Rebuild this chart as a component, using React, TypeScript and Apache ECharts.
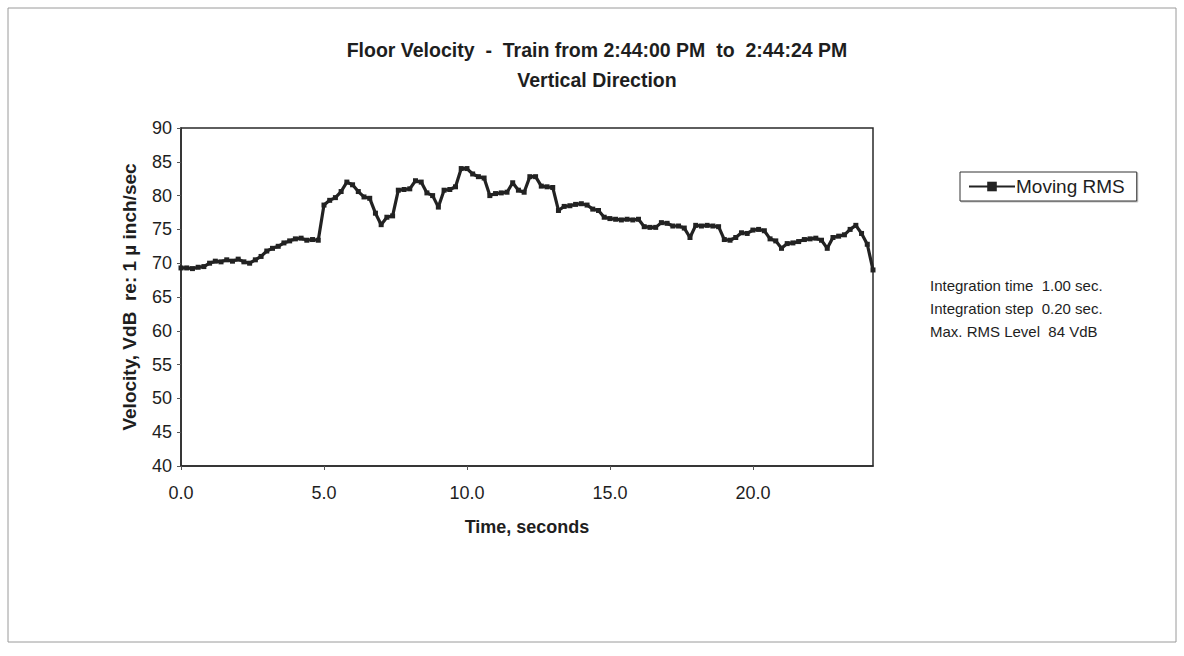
import React, { useEffect, useRef } from "react";
import * as echarts from "echarts";

const TITLE_LINE_1 = "Floor Velocity  -  Train from 2:44:00 PM  to  2:44:24 PM";
const TITLE_LINE_2 = "Vertical Direction";
const X_TITLE = "Time, seconds";
const Y_TITLE = "Velocity, VdB  re: 1 \u00b5 inch/sec";
const SERIES_NAME = "Moving RMS";
const NOTES = [
  "Integration time  1.00 sec.",
  "Integration step  0.20 sec.",
  "Max. RMS Level  84 VdB",
];

const STEP_SECONDS = 0.2;

// Moving RMS level (VdB), one value per 0.2 s step, t = 0.0 ... 24.2 s
const rmsValues = [
  69.3, 69.3, 69.2, 69.4, 69.5, 70.0, 70.3, 70.2, 70.5, 70.3,
  70.6, 70.2, 70.0, 70.5, 71.0, 71.8, 72.2, 72.5, 73.0, 73.3,
  73.6, 73.7, 73.4, 73.5, 73.4, 78.6, 79.3, 79.7, 80.6, 82.0,
  81.6, 80.6, 79.8, 79.6, 77.4, 75.7, 76.8, 77.0, 80.8, 80.9,
  81.0, 82.2, 82.0, 80.4, 80.0, 78.3, 80.8, 80.9, 81.3, 84.0,
  84.0, 83.2, 82.8, 82.6, 80.0, 80.3, 80.4, 80.5, 81.9, 80.8,
  80.5, 82.8, 82.8, 81.4, 81.3, 81.2, 77.8, 78.4, 78.5, 78.7,
  78.8, 78.6, 78.0, 77.8, 76.8, 76.6, 76.5, 76.4, 76.5, 76.4,
  76.5, 75.4, 75.3, 75.3, 76.0, 75.9, 75.5, 75.5, 75.2, 73.8,
  75.6, 75.5, 75.6, 75.5, 75.4, 73.5, 73.4, 73.8, 74.5, 74.4,
  74.9, 75.0, 74.8, 73.6, 73.3, 72.2, 72.9, 73.0, 73.2, 73.5,
  73.6, 73.7, 73.4, 72.2, 73.8, 74.0, 74.2, 75.0, 75.6, 74.4,
  72.8, 69.0,
];

const X_MIN = 0;
const X_MAX = 24.2;
const X_INTERVAL = 5;
const Y_MIN = 40;
const Y_MAX = 90;
const Y_INTERVAL = 5;

const FONT = "'Liberation Sans', Arial, Helvetica, sans-serif";
const INK = "#1e1e1e";

export default function App() {
  const ref = useRef<HTMLDivElement>(null);

  useEffect(() => {
    document.body.style.margin = "0";
    const chart = echarts.init(ref.current!, undefined, { renderer: "svg" });
    const data = rmsValues.map((v, i) => [
      Math.round(i * STEP_SECONDS * 10) / 10,
      v,
    ]);

    chart.setOption({
      animation: false,
      backgroundColor: "#ffffff",
      textStyle: { fontFamily: FONT },
      grid: {
        left: 181,
        right: 1184 - 873,
        top: 128,
        bottom: 656 - 466,
        show: true,
        borderColor: "#2a2a2a",
        borderWidth: 1.5,
        backgroundColor: "transparent",
      },
      legend: {
        left: 960,
        top: 172,
        orient: "vertical",
        data: [SERIES_NAME],
        itemWidth: 46,
        itemHeight: 12,
        padding: [5, 12, 5, 8],
        itemGap: 0,
        borderColor: "#333",
        borderWidth: 1,
        backgroundColor: "#fff",
        shadowColor: "rgba(0,0,0,0.25)",
        shadowOffsetX: 1,
        shadowOffsetY: 1,
        textStyle: { fontSize: 19, color: INK, fontFamily: FONT, padding: [0, 0, 0, -4] },
      },
      xAxis: {
        type: "value",
        min: X_MIN,
        max: X_MAX,
        interval: X_INTERVAL,
        name: X_TITLE,
        nameLocation: "middle",
        nameGap: 52,
        nameTextStyle: { fontSize: 18, fontWeight: "bold", color: INK, fontFamily: FONT },
        axisLine: { show: true, lineStyle: { color: "#2a2a2a", width: 1.5 } },
        axisTick: { show: true, inside: false, length: 4, lineStyle: { color: "#555" } },
        axisLabel: {
          fontSize: 18,
          color: INK,
          margin: 18,
          showMaxLabel: false,
          formatter: (v: number) => v.toFixed(1),
        },
        splitLine: { show: false },
      },
      yAxis: {
        type: "value",
        min: Y_MIN,
        max: Y_MAX,
        interval: Y_INTERVAL,
        name: Y_TITLE,
        nameLocation: "middle",
        nameGap: 42,
        nameRotate: 90,
        nameTextStyle: { fontSize: 19, fontWeight: "bold", color: INK, fontFamily: FONT },
        axisLine: { show: true, lineStyle: { color: "#2a2a2a", width: 1.5 } },
        axisTick: { show: true, inside: false, length: 4, lineStyle: { color: "#555" } },
        axisLabel: { fontSize: 18, color: INK, margin: 9 },
        splitLine: { show: false },
      },
      series: [
        {
          name: SERIES_NAME,
          type: "line",
          data,
          showSymbol: true,
          symbol: "rect",
          symbolSize: 5,
          lineStyle: { color: "#222", width: 3.2 },
          itemStyle: { color: "#222" },
          emphasis: { disabled: true },
        },
      ],
      graphic: [
        {
          type: "rect",
          shape: { x: 8, y: 8, width: 1168, height: 634 },
          style: { fill: "none", stroke: "#9a9a9a", lineWidth: 1 },
          silent: true,
          z: -1,
        },
        {
          type: "text",
          x: 597,
          y: 50,
          style: {
            text: TITLE_LINE_1,
            fontSize: 19.5,
            fontWeight: "bold",
            fontFamily: FONT,
            fill: INK,
            align: "center",
            verticalAlign: "middle",
          },
        },
        {
          type: "text",
          x: 597,
          y: 80,
          style: {
            text: TITLE_LINE_2,
            fontSize: 19.5,
            fontWeight: "bold",
            fontFamily: FONT,
            fill: INK,
            align: "center",
            verticalAlign: "middle",
          },
        },
        ...NOTES.map((t, i) => ({
          type: "text",
          x: 930,
          y: 285 + i * 23,
          style: {
            text: t,
            fontSize: 15,
            fontFamily: FONT,
            fill: INK,
            align: "left",
            verticalAlign: "middle",
          },
        })),
      ],
    });

    return () => chart.dispose();
  }, []);

  return <div ref={ref} style={{ width: 1184, height: 656 }} />;
}
